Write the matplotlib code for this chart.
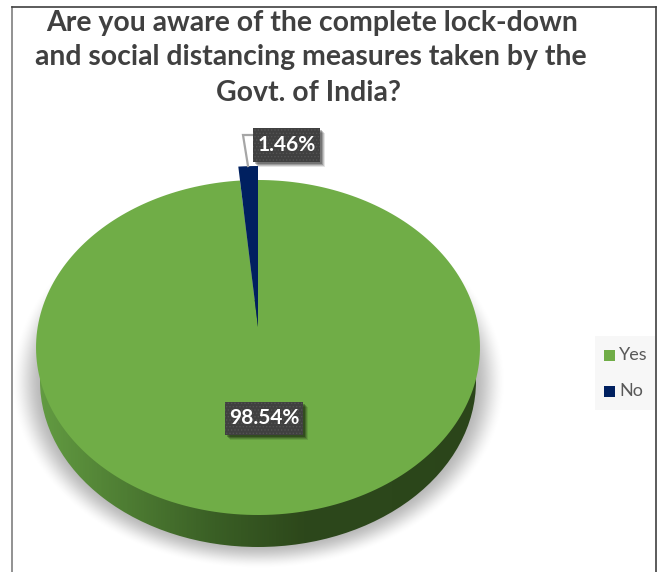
import numpy as np
import matplotlib
matplotlib.use("Agg")
import matplotlib.pyplot as plt
from matplotlib.colors import LinearSegmentedColormap
from matplotlib.patches import Ellipse, Polygon, Rectangle

title_lines = [
    "Are you aware of the complete lock-down",
    "and social distancing measures taken by the",
    "Govt. of India?",
]
answers = ["Yes", "No"]
shares = [98.54, 1.46]
colors = ["#70AD47", "#002060"]

plt.rcParams["font.family"] = ["Lato", "DejaVu Sans"]
plt.rcParams["hatch.linewidth"] = 0.6

# tilted disc: projective view of the unit circle
CX, CY = 258, 327
A, B, K = 165.0, 220.3, 0.1224
NO_EXPLODE = 1.108


def project(theta, r=1.0):
    # theta in degrees clockwise from 12 o'clock
    u = r * np.sin(np.radians(theta))
    v = r * np.cos(np.radians(theta))
    w = 1 + K * v
    return CX + B * u / w, CY - A * v / w


def slice_poly(start, stop, r=1.0):
    t = np.linspace(start, stop, 240)
    x, y = project(t, r)
    x = np.r_[CX, x]
    y = np.r_[CY, y]
    return np.column_stack([x, y])


fig = plt.figure(figsize=(6.6, 5.72), dpi=100, facecolor="white")
ax = fig.add_axes([0, 0, 1, 1])
ax.axis("off")

# soft shadow under the disc
yy, xx = np.mgrid[0:572, 0:660]
dist = np.hypot((xx - 258) / 248.0, (yy - 381) / 188.0)
fade = np.clip((1.0 - dist) / 0.14, 0, 1)
shadow = np.zeros((572, 660, 4))
shadow[..., 3] = fade * fade * (3 - 2 * fade) * 0.29
ax.imshow(shadow, extent=(0, 660, 572, 0), aspect="auto", zorder=1)

# side wall, the lower rim sits a little inside the top one
wall_patch = Ellipse((258, 381), 436, 332, fc="none", ec="none")
ax.add_patch(wall_patch)
wall_cmap = LinearSegmentedColormap.from_list(
    "wall", ["#639C42", "#4E7D33", "#3A5F25", "#2D481B", "#2C471B", "#2B451A"])
ramp = np.linspace(0, 1, 445).reshape(1, -1)
wall_im = ax.imshow(ramp, cmap=wall_cmap, extent=(36, 481, 572, 300),
                    aspect="auto", zorder=2)
wall_im.set_clip_path(wall_patch)

# slices, clockwise from 12 o'clock
edges = np.r_[0, np.cumsum(shares)] / np.sum(shares) * 360
radii = [1.0, NO_EXPLODE]
for i, answer in enumerate(answers):
    ax.add_patch(Polygon(slice_poly(edges[i], edges[i + 1], radii[i]),
                         closed=True, fc=colors[i], ec="none", zorder=3))


def value_box(x0, y0, x1, y1, value):
    # dark label with drop shadow
    for off, a in [(5, 0.10), (4, 0.15), (3, 0.2), (2, 0.25)]:
        ax.add_patch(Rectangle((x0 + off, y0 + off), x1 - x0, y1 - y0,
                               fc="black", ec="none", alpha=a, zorder=5))
    ax.add_patch(Rectangle((x0, y0), x1 - x0, y1 - y0, fc="#404040",
                           ec="#545454", hatch=".....", lw=0, zorder=6))
    ax.text((x0 + x1) / 2, (y0 + y1) / 2, f"{value:.2f}%", color="white",
            fontsize=15, fontweight="bold", ha="center", va="center",
            zorder=7)


ax.plot([253, 243, 248], [135, 135, 166], color="#A6A6A6", lw=1.6, zorder=4,
        solid_joinstyle="miter")
value_box(225, 402, 303, 435, shares[0])
value_box(253, 128, 320, 162, shares[1])

# title, one text per line
for line, x, y in zip(title_lines, [312, 310.5, 309], [23, 57, 93]):
    ax.text(x, y, line, color="#404040", fontsize=20.4, fontweight="bold",
            ha="center", va="center", zorder=8)

# legend
ax.add_patch(Rectangle((595, 336), 60, 74, fc="#F7F7F7", ec="none", zorder=1))
for answer, color, y in zip(answers, colors, [355, 391]):
    ax.add_patch(Rectangle((604, y - 5.5), 11, 11, fc=color, ec="none", zorder=2))
    ax.text(619, y, answer, color="#595959", fontsize=13, ha="left",
            va="center", zorder=2)

# chart frame
ax.plot([12, 12], [572, 7], color="#7F7F7F", lw=1.2, zorder=9)
ax.plot([12, 656], [7, 7], color="#404040", lw=1.2, zorder=9)
ax.plot([656, 656], [7, 572], color="#404040", lw=1.2, zorder=9)

ax.set_xlim(0, 660)
ax.set_ylim(572, 0)
fig.savefig("out.png", dpi=100)
